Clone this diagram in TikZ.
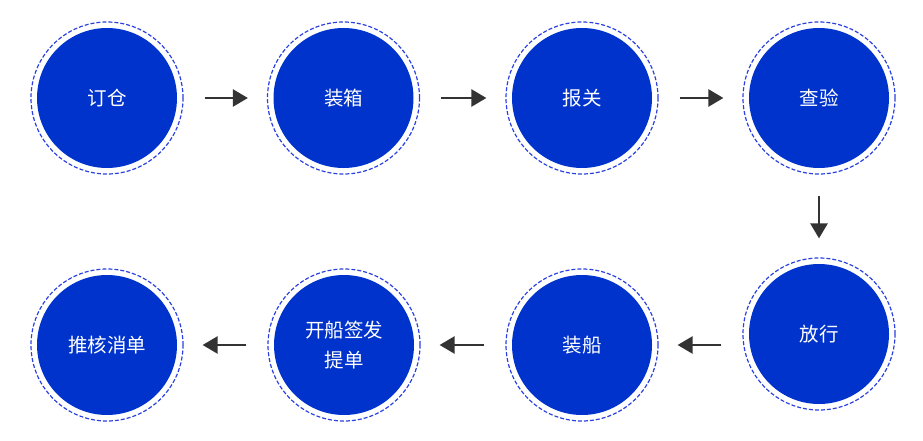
\documentclass[tikz,border=0pt]{standalone}
\usepackage{fontspec}
\setmainfont{Noto Sans CJK SC}
\usetikzlibrary{arrows.meta}
\definecolor{fillblue}{HTML}{0033CC}
\definecolor{dashblue}{HTML}{2A40E0}
\definecolor{arrowgray}{HTML}{333333}
\begin{document}
\begin{tikzpicture}[x=1pt,y=-1pt,
  ring/.style={circle,draw=dashblue,line width=1.2pt,dash pattern=on 4pt off 2pt,minimum size=152pt,inner sep=0pt},
  disc/.style={circle,fill=fillblue,minimum size=140pt,inner sep=0pt,text=white,font=\fontsize{19.5pt}{30pt}\selectfont,align=center},
  flow/.style={draw=arrowgray,line width=2.5pt,-{Triangle[length=15pt,width=17pt]},shorten <=21pt,shorten >=19pt}]
\useasboundingbox (0,0) rectangle (923,441);
\node[ring] (r1) at (107,98) {};
\node[disc] (d1) at (r1) {订仓};
\node[ring] (r2) at (343.5,98) {};
\node[disc] (d2) at (r2) {装箱};
\node[ring] (r3) at (582,98) {};
\node[disc] (d3) at (r3) {报关};
\node[ring] (r4) at (819,98) {};
\node[disc] (d4) at (r4) {查验};
\node[ring] (r5) at (819,334) {};
\node[disc] (d5) at (r5) {放行};
\node[ring] (r6) at (582,345) {};
\node[disc] (d6) at (r6) {装船};
\node[ring] (r7) at (344,345) {};
\node[disc] (d7) at (r7) {开船签发\\提单};
\node[ring] (r8) at (107,345) {};
\node[disc] (d8) at (r8) {推核消单};
\draw[flow] (r1) -- (r2);
\draw[flow] (r2) -- (r3);
\draw[flow] (r3) -- (r4);
\draw[flow] (r4) -- (r5);
\draw[flow] (r5.west |- r6) -- (r6);
\draw[flow] (r6) -- (r7);
\draw[flow] (r7) -- (r8);
\end{tikzpicture}
\end{document}
